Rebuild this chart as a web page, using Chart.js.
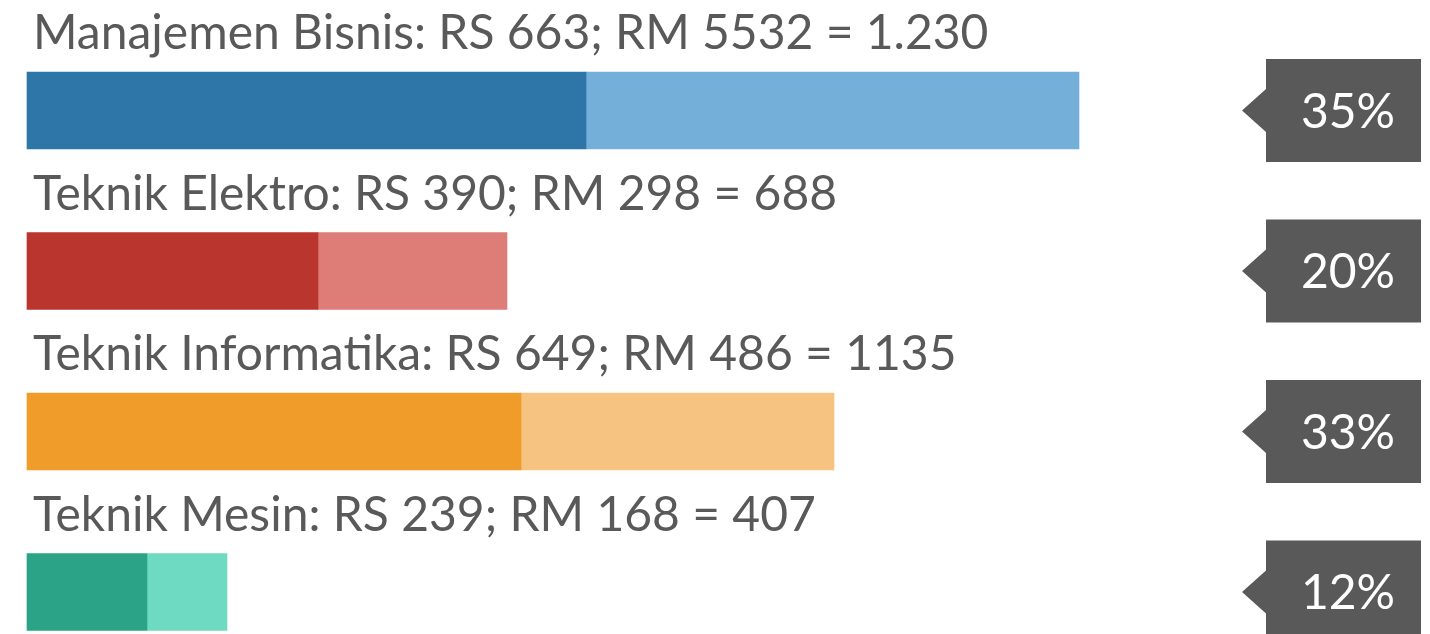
<!DOCTYPE html>
<html>
<head>
<meta charset="utf-8">
<script src="https://cdn.jsdelivr.net/npm/chart.js@4.4.1/dist/chart.umd.min.js"></script>
<style>
  html, body { margin: 0; padding: 0; background: #fff; }
  #wrap { width: 1430px; height: 634px; position: relative; }
</style>
</head>
<body>
<div id="wrap"><canvas id="barChart"></canvas></div>
<script>
const programs = ['Manajemen Bisnis', 'Teknik Elektro', 'Teknik Informatika', 'Teknik Mesin'];
const rsCount = [663, 390, 649, 239];
const rmCount = [5532, 298, 486, 168];
const totalText = ['1.230', '688', '1135', '407'];
const shares = [35, 20, 33, 12];

// bar segment lengths as drawn in the picture (not proportional to the counts)
const rsBar = [559, 291, 494, 120];
const rmBar = [493, 189, 313, 80];
const xMax = 1203;

const darkColors = ['#2e75a8', '#ba352e', '#f09c2b', '#2ba386'];
const lightColors = ['#74afda', '#de7c78', '#f7c380', '#6fdac2'];

const FONT = '48px Lato, "Open Sans", sans-serif';

const labelPlugin = {
  id: 'labels',
  afterDatasetsDraw(chart) {
    const ctx = chart.ctx;
    const meta = chart.getDatasetMeta(0);
    ctx.save();
    meta.data.forEach((bar, i) => {
      const top = bar.y - bar.height / 2;
      ctx.font = FONT;
      ctx.fillStyle = '#595959';
      ctx.textAlign = 'left';
      ctx.textBaseline = 'alphabetic';
      ctx.fillText(`${programs[i]}: RS ${rsCount[i]}; RM ${rmCount[i]} = ${totalText[i]}`, 33, top - 23);

      // callout box
      const right = chart.width - 9;
      const left = right - 155;
      const h = 103;
      const y0 = bar.y - h / 2;
      ctx.fillStyle = '#595959';
      ctx.beginPath();
      ctx.moveTo(left, y0);
      ctx.lineTo(right, y0);
      ctx.lineTo(right, y0 + h);
      ctx.lineTo(left, y0 + h);
      ctx.lineTo(left, bar.y + 21.5);
      ctx.lineTo(left - 24, bar.y);
      ctx.lineTo(left, bar.y - 21.5);
      ctx.closePath();
      ctx.fill();

      ctx.fillStyle = '#ffffff';
      ctx.textAlign = 'center';
      ctx.textBaseline = 'middle';
      ctx.fillText(`${shares[i]}%`, left + 82, bar.y + 2);
    });
    ctx.restore();
  }
};

new Chart(document.getElementById('barChart').getContext('2d'), {
  type: 'bar',
  data: {
    labels: programs,
    datasets: [
      { label: 'RS', data: rsBar, backgroundColor: darkColors, barThickness: 77, clip: false },
      { label: 'RM', data: rmBar, backgroundColor: lightColors, barThickness: 77, clip: false }
    ]
  },
  options: {
    indexAxis: 'y',
    responsive: true,
    maintainAspectRatio: false,
    animation: false,
    layout: { padding: { left: 27, right: 200, top: 110.5, bottom: 42 } },
    scales: {
      x: { stacked: true, display: false, min: 0, max: xMax },
      y: { stacked: true, display: false, offset: false }
    },
    plugins: { legend: { display: false }, tooltip: { enabled: false } }
  },
  plugins: [labelPlugin]
});
</script>
</body>
</html>
